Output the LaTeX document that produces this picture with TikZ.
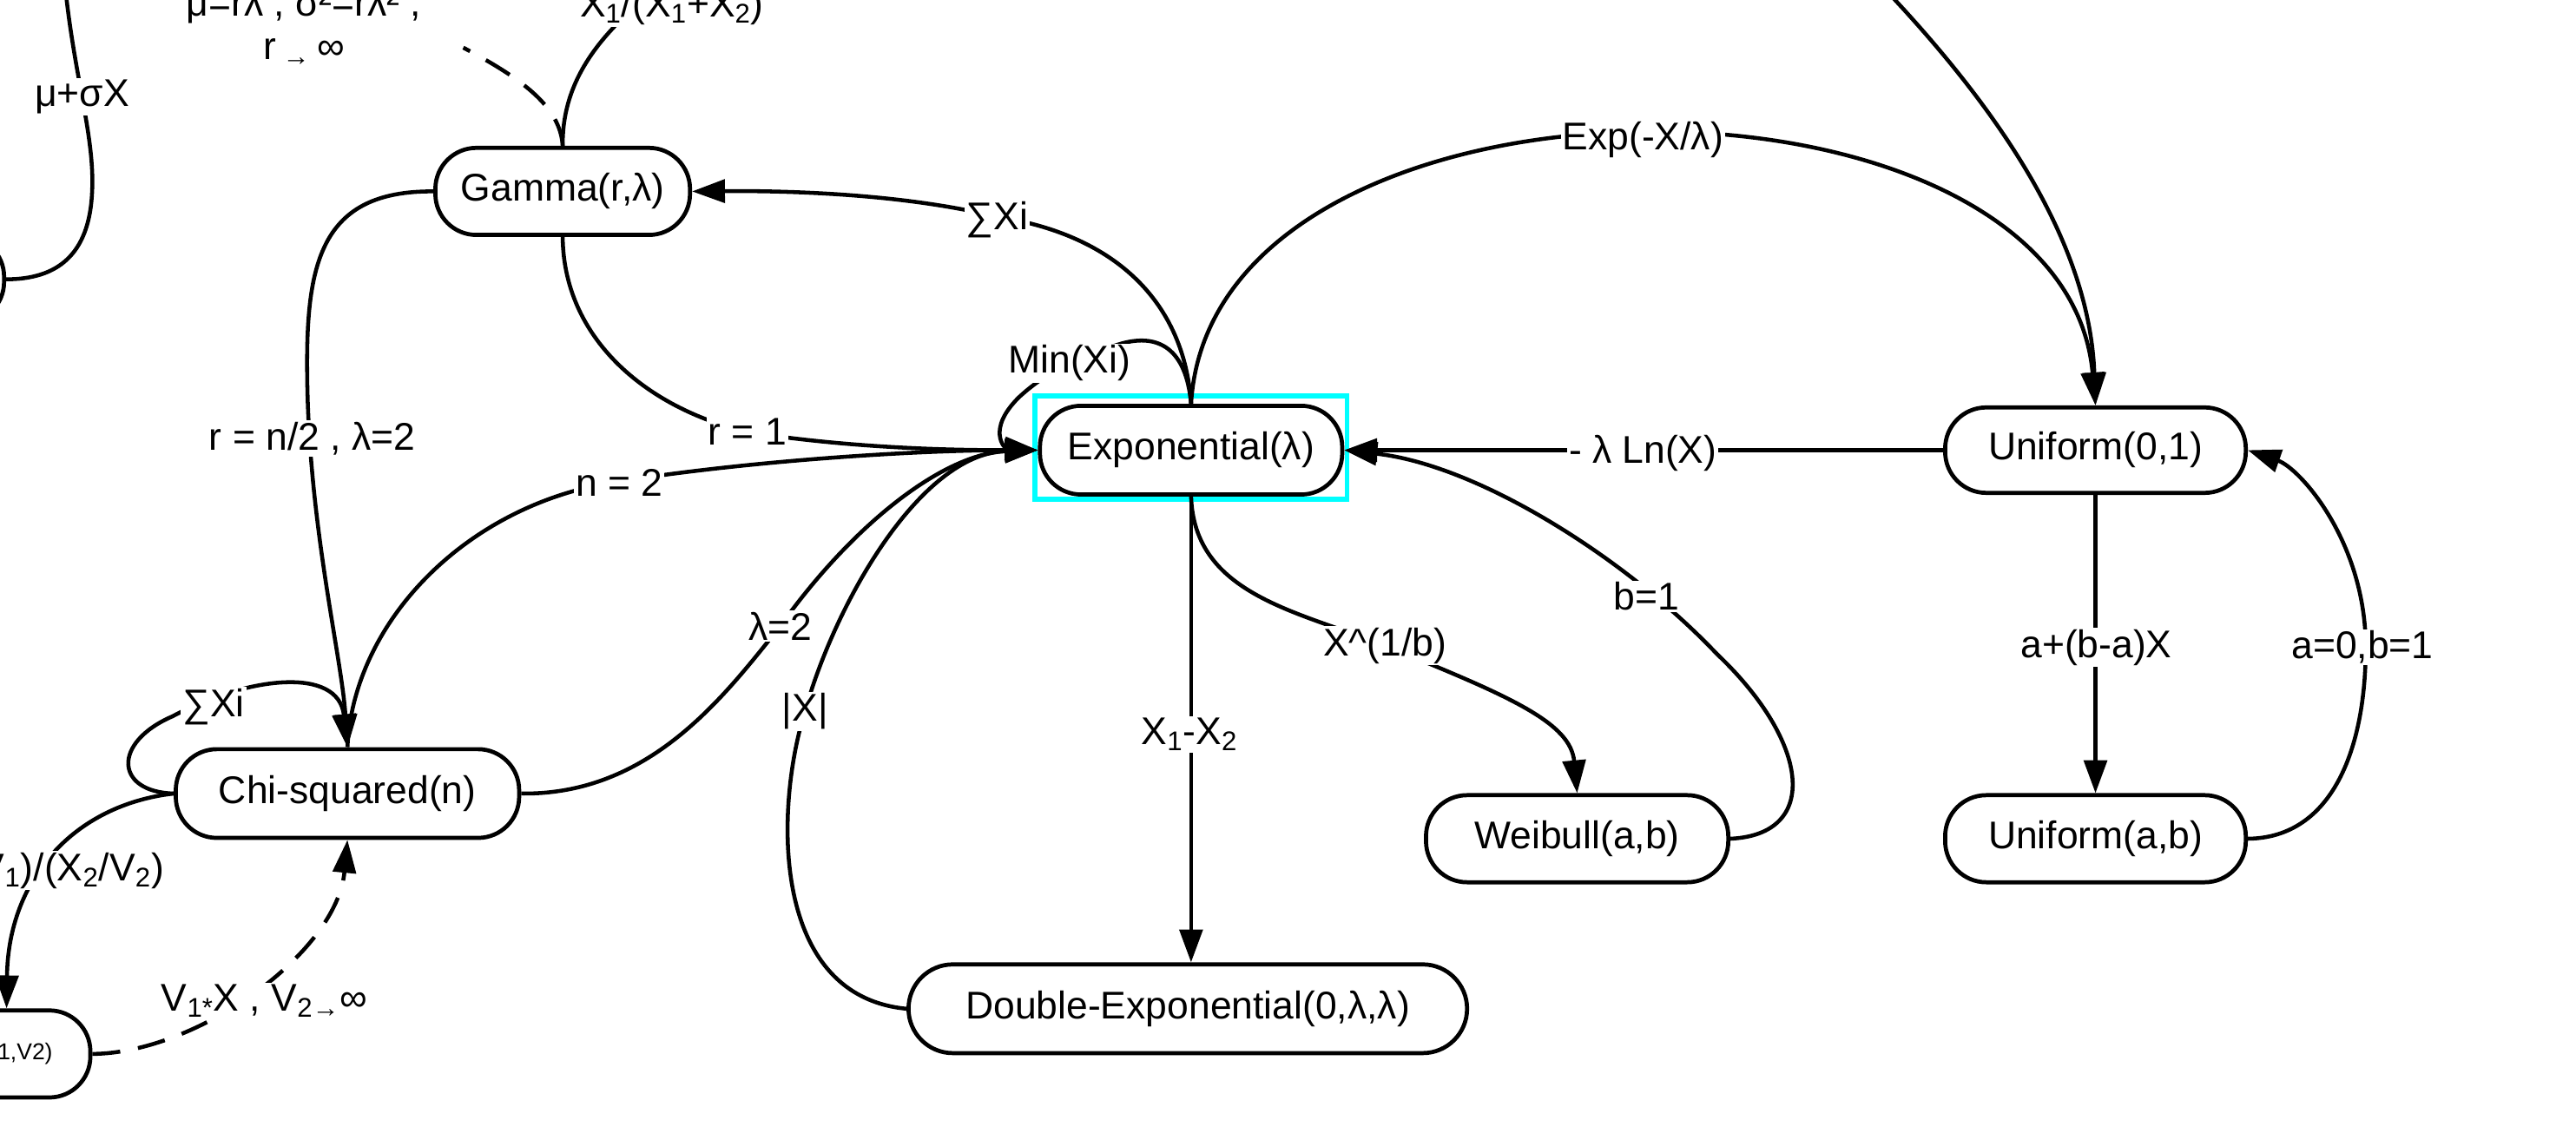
\documentclass[tikz,border=0pt]{standalone}
\usepackage{fontspec}
\setmainfont{Liberation Sans}
\usetikzlibrary{arrows.meta}
\definecolor{cyanhl}{RGB}{0,255,255}
\begin{document}
\begin{tikzpicture}[x=1pt,y=-1pt,
  nd/.style={draw,line width=2.5pt,rounded corners=25pt,minimum height=53pt,inner sep=0pt,font=\fontsize{23.5}{28}\selectfont},
  lbl/.style={fill=white,inner sep=1pt,font=\fontsize{23.5}{28}\selectfont},
  ln/.style={line width=2.4pt},
  arr/.style={ln,-{Triangle[length=20pt,width=14pt]}},
  dsh/.style={dash pattern=on 17pt off 11pt}]
\useasboundingbox (0,0) rectangle (1568,693.4);
\clip (0,0) rectangle (1568,693.4);
% nodes
\node[nd,minimum width=155pt] (gamma) at (342.5,116.5) {Gamma(r,λ)};
\node[nd,minimum width=184pt,minimum height=54pt] (expo) at (725,274) {Exponential(λ)};
\node[nd,minimum width=183pt,minimum height=52pt] (uni01) at (1275.5,274) {Uniform(0,1)};
\node[nd,minimum width=183pt] (uniab) at (1275.5,510.5) {Uniform(a,b)};
\node[nd,minimum width=184pt] (weib) at (960,510.5) {Weibull(a,b)};
\node[nd,minimum width=340pt,minimum height=54pt,rounded corners=27pt] (dexp) at (723,614) {Double-Exponential(0,λ,λ)};
\node[nd,minimum width=209pt,minimum height=54pt] (chi) at (211.5,483) {Chi-squared(n)};
\node[nd,minimum width=102pt,font=\fontsize{14}{17}\selectfont] (fdist) at (4,641.5) {F(V1,V2)};
\node[nd,minimum width=165pt] (norm) at (-80,170) {};
\draw[cyanhl,line width=3pt] (630,241) rectangle (820,304);
% free ends
\coordinate (nTop) at (40,-5);
\coordinate (dashEnd) at (282,29);
\coordinate (xTop) at (410,-15);
\coordinate (urTop) at (1146,-8);
% edges
\draw[ln] (nTop) .. controls (46,50) and (58,85) .. (56,118) .. controls (54,155) and (35,170) .. (norm.east);
\draw[ln,dsh] (gamma.north) .. controls (341,65) and (318,48) .. (dashEnd);
\draw[ln] (gamma.north) .. controls (342,45) and (370,15) .. (xTop);
\draw[arr] (expo.north) .. controls (721,185) and (680,143) .. (607,132) .. controls (550,118) and (480,116) .. (gamma.east);
\draw[arr] (expo.north) .. controls (722,212) and (705,203) .. (683,209) .. controls (655,217) and (635,228) .. (620,242) .. controls (600,262) and (612,273) .. (expo.west);
\draw[arr] (expo.north) .. controls (738,28) and (1256,28) .. (uni01.north);
\draw[arr] (urTop) .. controls (1220,70) and (1272,150) .. (uni01.north);
\draw[arr] (uni01.west) -- (expo.east);
\draw[arr] (weib.east) .. controls (1108,508) and (1102,452) .. (1045,398) .. controls (990,340) and (900,283) .. (expo.east);
\draw[arr] (expo.south) .. controls (727,362) and (790,372) .. (843,393) .. controls (920,424) and (956,440) .. (weib.north);
\draw[arr] (expo.south) -- (expo.south |- dexp.north);
\draw[arr] (dexp.west) .. controls (468,606) and (472,490) .. (490,433) .. controls (508,368) and (560,276) .. (expo.west);
\draw[arr] (chi.east) .. controls (395,484) and (440,425) .. (475,381) .. controls (520,318) and (575,276) .. (expo.west);
\draw[arr] (chi.north) .. controls (215,378) and (285,306) .. (377,293) .. controls (460,280) and (560,274) .. (expo.west);
\draw[arr] (gamma.south) .. controls (343,205) and (392,248) .. (455,263) .. controls (520,273) and (580,274) .. (expo.west);
\draw[arr] (gamma.west) .. controls (195,116) and (186,160) .. (187,230) .. controls (188,320) and (208,400) .. (chi.north);
\draw[arr] (chi.west) .. controls (70,482) and (68,452) .. (105,436) .. controls (150,412) and (206,405) .. (chi.north);
\draw[arr] (chi.west) .. controls (45,490) and (5,535) .. (fdist.north);
\draw[arr,dsh] (fdist.east) .. controls (120,641) and (205,580) .. (chi.south);
\draw[arr] (uni01.south) -- (uniab.north);
\draw[arr] (uniab.east) .. controls (1420,510) and (1440,455) .. (1440,394) .. controls (1440,330) and (1400,285) .. (uni01.east);
% labels
\node[lbl] (l1) at (50,59) {μ+σX};
\node[lbl,anchor=base] (l2a) at (185,10) {μ=rλ , σ²=rλ² ,};
\node[lbl,anchor=base] (l2b) at (185,36) {r\,\textsubscript{→}\,∞};
\node[lbl,anchor=base] (l3) at (409,10.5) {X\textsubscript{1}/(X\textsubscript{1}+X\textsubscript{2})};
\node[lbl] (l4) at (607,134) {∑Xi};
\node[lbl] (l5) at (651,221) {Min(Xi)};
\node[lbl] (l6) at (1000,85) {Exp(-X/λ)};
\node[lbl] (l7) at (1000,276) {- λ Ln(X)};
\node[lbl] (l8) at (1002,363) {b=1};
\node[lbl] (l9) at (843,393) {X\textasciicircum(1/b)};
\node[lbl] (l10) at (1276,394) {a+(b-a)X};
\node[lbl] (l11) at (1438,394) {a=0,b=1};
\node[lbl] (l12) at (724,447) {X\textsubscript{1}-X\textsubscript{2}};
\node[lbl] (l13) at (490,433) {|X|};
\node[lbl] (l14) at (475,381) {λ=2};
\node[lbl] (l15) at (377,294) {n = 2};
\node[lbl] (l16) at (455,263) {r = 1};
\node[lbl] (l17) at (190,267) {r = n/2 , λ=2};
\node[lbl] (l18) at (130,430) {∑Xi};
\node[lbl,anchor=east] (l19) at (101,530) {(X\textsubscript{1}/V\textsubscript{1})/(X\textsubscript{2}/V\textsubscript{2})};
\node[lbl] (l20) at (161,609) {V\textsubscript{1*}X , V\textsubscript{2→}∞};
\end{tikzpicture}
\end{document}
